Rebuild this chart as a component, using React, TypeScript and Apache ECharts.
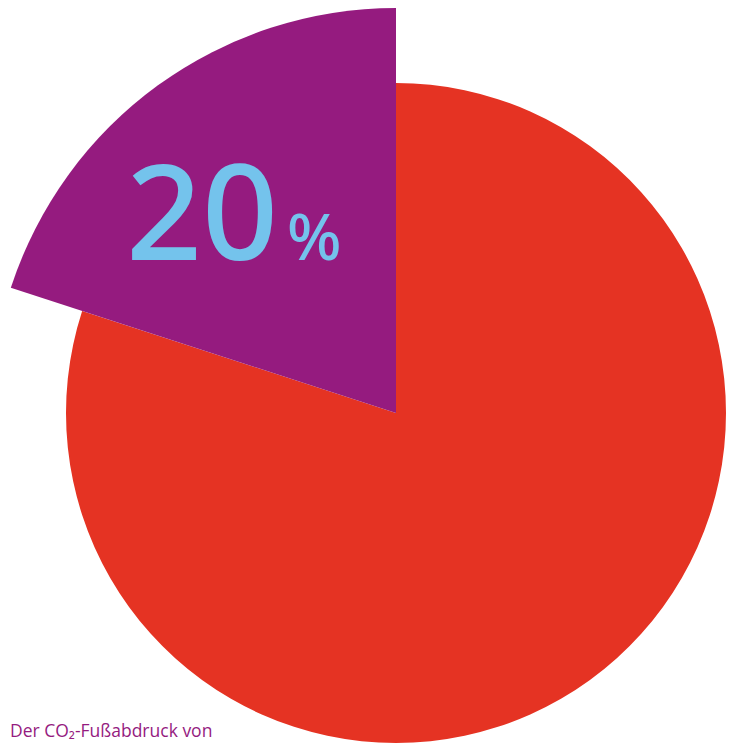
import React, { useEffect, useRef } from "react";
import * as echarts from "echarts";

const categories = ["Rest", "Anteil"];
const shares = [80, 20];
const bigLabel = "20";
const pctLabel = "%";
const caption = "Der CO₂-Fußabdruck von";

export default function App() {
  const ref = useRef<HTMLDivElement>(null);
  useEffect(() => {
    const chart = echarts.init(ref.current!, null, { renderer: "svg" });
    const red = "#E53323";
    const purple = "#951B7F";
    const blue = "#74C3EC";
    chart.setOption({
      animation: false,
      backgroundColor: "#ffffff",
      series: [
        {
          type: "pie",
          center: [396, 413],
          radius: [0, 330],
          startAngle: 90,
          clockwise: true,
          label: { show: false },
          labelLine: { show: false },
          silent: true,
          data: categories.map((c, i) => ({
            name: c,
            value: shares[i],
            itemStyle: { color: i === 0 ? red : "rgba(0,0,0,0)" },
          })),
        },
        {
          type: "pie",
          center: [396, 413],
          radius: [0, 405],
          startAngle: 90,
          clockwise: true,
          label: { show: false },
          labelLine: { show: false },
          silent: true,
          data: categories.map((c, i) => ({
            name: c,
            value: shares[i],
            itemStyle: { color: i === 1 ? purple : "rgba(0,0,0,0)" },
          })),
        },
      ],
      graphic: [
        {
          type: "text",
          left: 126,
          top: 142,
          z: 100,
          style: {
            text: bigLabel,
            fill: blue,
            font: '500 133px "Noto Sans"',
          },
        },
        {
          type: "text",
          left: 287,
          top: 203,
          z: 100,
          style: {
            text: pctLabel,
            fill: blue,
            font: '500 64px "Noto Sans"',
          },
        },
        {
          type: "text",
          left: 10,
          top: 721,
          z: 100,
          style: {
            text: caption,
            fill: purple,
            font: '500 17.5px "Open Sans"',
          },
        },
      ],
    });
    return () => chart.dispose();
  }, []);
  return (
    <div
      ref={ref}
      style={{ position: "fixed", left: 0, top: 0, width: 733, height: 744 }}
    />
  );
}
